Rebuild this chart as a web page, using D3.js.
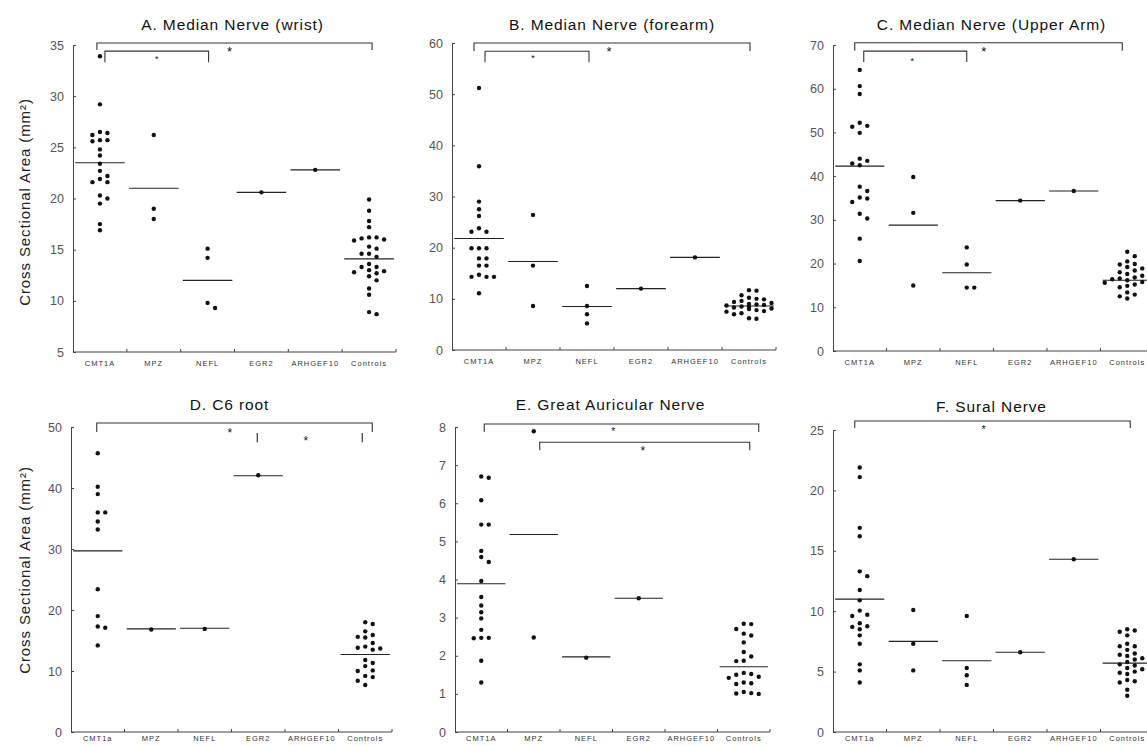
<!DOCTYPE html>
<html>
<head>
<meta charset="utf-8">
<script src="https://cdn.jsdelivr.net/npm/d3@7"></script>
<style>
  body { margin: 0; background: #fff; }
  svg { display: block; font-family: "Liberation Sans", Arial, sans-serif; }
</style>
</head>
<body>
<div id="chart"></div>
<script>
// categories
const categories = ["CMT1A", "MPZ", "NEFL", "EGR2", "ARHGEF10", "Controls"]
const categoriesLower = ["CMT1a", "MPZ", "NEFL", "EGR2", "ARHGEF10", "Controls"]

// A. median nerve (wrist), one list per category
const wristValues = [
  [33.9, 29.2, 26.5, 26.2, 26.4, 25.7, 25.7, 25.6, 24.8, 24.2, 23.4, 22.7, 22.2, 21.9, 21.6, 21.6, 20.3, 20.0, 19.5, 17.5, 16.9],
  [26.2, 19.0, 18.0],
  [15.1, 14.2, 9.8, 9.3],
  [20.6],
  [22.8],
  [19.9, 18.8, 17.8, 17.2, 16.2, 16.2, 16.1, 16.0, 15.9, 15.3, 15.1, 14.6, 14.6, 14.3, 13.6, 13.3, 13.3, 13.0, 12.9, 12.8, 12.7, 12.4, 12.0, 11.2, 10.6, 8.9, 8.7]
]
const wristMeans = [23.5, 21.0, 12.0, 20.6, 22.8, 14.1]

// B. median nerve (forearm)
const forearmValues = [
  [51.2, 35.9, 29.0, 27.5, 26.2, 23.8, 23.1, 23.1, 19.9, 19.9, 19.9, 17.9, 17.9, 16.5, 16.5, 14.7, 14.3, 14.3, 14.3, 11.1],
  [26.4, 16.5, 8.6],
  [12.5, 8.6, 7.0, 5.2],
  [12.0],
  [18.1],
  [11.7, 11.6, 10.7, 10.2, 10.0, 9.9, 9.6, 9.4, 9.2, 9.0, 8.9, 8.8, 8.7, 8.5, 8.4, 8.3, 8.1, 8.0, 7.8, 7.6, 7.5, 7.2, 7.0, 6.2, 6.1]
]
const forearmMeans = [21.8, 17.3, 8.5, 12.0, 18.1, 8.6]

// C. median nerve (upper arm)
const upperArmValues = [
  [64.3, 60.6, 58.8, 52.2, 51.5, 51.3, 49.9, 44.0, 43.5, 42.9, 42.5, 37.6, 36.6, 35.1, 34.9, 34.1, 31.4, 30.3, 25.7, 20.6],
  [39.8, 31.6, 15.0],
  [23.7, 19.8, 14.5, 14.5],
  [34.4],
  [36.6],
  [22.7, 21.7, 20.5, 19.9, 19.8, 19.2, 18.9, 18.4, 18.0, 17.6, 17.2, 16.8, 16.6, 16.4, 16.2, 16.0, 15.8, 15.6, 15.2, 14.9, 14.6, 13.4, 12.9, 12.5, 12.0]
]
const upperArmMeans = [42.3, 28.8, 17.9, 34.4, 36.6, 16.2]

// D. C6 root
const c6Values = [
  [45.7, 40.2, 39.0, 36.0, 36.0, 34.5, 33.2, 23.4, 19.0, 17.3, 17.1, 14.2],
  [16.8],
  [16.9],
  [42.1],
  [],
  [18.0, 17.7, 16.5, 15.9, 15.6, 15.5, 14.6, 14.0, 13.8, 13.7, 13.5, 11.8, 11.3, 10.8, 10.1, 10.0, 9.2, 9.0, 8.4, 7.7]
]
const c6Means = [29.7, 16.9, 17.0, 42.0, null, 12.7]

// E. great auricular nerve
const auricularValues = [
  [6.70, 6.67, 6.08, 5.44, 5.44, 4.75, 4.59, 4.46, 3.96, 3.54, 3.32, 3.14, 2.98, 2.68, 2.47, 2.46, 2.47, 1.87, 1.30],
  [7.89, 2.48],
  [1.95],
  [3.51],
  [],
  [2.84, 2.83, 2.70, 2.58, 2.53, 2.35, 2.10, 1.98, 1.87, 1.86, 1.55, 1.52, 1.50, 1.45, 1.42, 1.30, 1.28, 1.26, 1.05, 1.02, 1.01, 1.00]
]
const auricularMeans = [3.89, 5.18, 1.97, 3.51, null, 1.71]

// F. sural nerve
const suralValues = [
  [21.9, 21.1, 16.9, 16.2, 13.3, 12.9, 11.75, 10.9, 10.05, 9.7, 9.6, 9.0, 8.75, 8.7, 8.5, 8.0, 7.3, 5.6, 5.1, 4.1],
  [10.1, 7.3, 5.1],
  [9.6, 5.3, 4.7, 3.9],
  [6.6],
  [14.3],
  [8.5, 8.4, 8.3, 8.0, 7.3, 7.1, 7.1, 6.8, 6.5, 6.4, 6.3, 6.1, 6.0, 5.8, 5.6, 5.5, 5.3, 5.2, 5.0, 4.9, 4.8, 4.3, 4.2, 4.1, 3.5, 3.0]
]
const suralMeans = [11.0, 7.5, 5.9, 6.6, 14.3, 5.7]

const Y_LABEL = "Cross Sectional Area (mm\u00B2)"

const panels = [
  { title: "A. Median Nerve (wrist)", cats: categories, values: wristValues, means: wristMeans,
    domain: [5, 35], step: 5, x0: 73, x1: 396, top: 45, bottom: 352, titleY: 25, labelY: 202, pad: 9,
    brackets: [
      { from: "CMT1A", to: "Controls", dx1: -3, dx2: 3, level: 35.2, drop: 7 },
      { from: "CMT1A", to: "NEFL", dx1: 5, dx2: 1, level: 34.4, drop: 11 }],
    stars: [{ cat: "MPZ", dx: 3, level: 33.7, size: 9 }, { cat: "NEFL", dx: 22, level: 34.5, size: 13 }],
    bars: [] },
  { title: "B. Median Nerve (forearm)", cats: categories, values: forearmValues, means: forearmMeans,
    domain: [0, 60], step: 10, x0: 452, x1: 776, top: 43, bottom: 350, titleY: 25, pad: 9,
    brackets: [
      { from: "CMT1A", to: "Controls", dx1: -5, dx2: 1, level: 60, drop: 8 },
      { from: "CMT1A", to: "NEFL", dx1: 6, dx2: 2, level: 58.4, drop: 11 }],
    stars: [{ cat: "MPZ", dx: 0, level: 57.3, size: 9 }, { cat: "NEFL", dx: 22, level: 58.6, size: 13 }],
    bars: [] },
  { title: "C. Median Nerve (Upper Arm)", cats: categories, values: upperArmValues, means: upperArmMeans,
    domain: [0, 70], step: 10, x0: 833, x1: 1154, top: 45, bottom: 351, titleY: 25, pad: 9,
    brackets: [
      { from: "CMT1A", to: "Controls", dx1: -5, dx2: -5, level: 70.5, drop: 8 },
      { from: "CMT1A", to: "NEFL", dx1: 4, dx2: 0, level: 68.6, drop: 11 }],
    stars: [{ cat: "MPZ", dx: -1, level: 66.6, size: 9 }, { cat: "NEFL", dx: 17, level: 68.9, size: 13 }],
    bars: [] },
  { title: "D. C6 root", cats: categoriesLower, values: c6Values, means: c6Means,
    domain: [0, 50], step: 10, x0: 71, x1: 392, top: 427, bottom: 732, titleY: 405, labelY: 570, pad: 4,
    brackets: [{ from: "CMT1a", to: "Controls", dx1: -1, dx2: 7, level: 50.65, drop: 9 }],
    stars: [{ cat: "NEFL", dx: 25, level: 49.2, size: 12 }, { cat: "ARHGEF10", dx: -6, level: 47.9, size: 12 }],
    bars: [{ cat: "EGR2", dx: -1, from: 49.0, to: 47.5 }, { cat: "Controls", dx: -3, from: 49.0, to: 47.5 }] },
  { title: "E. Great Auricular Nerve", cats: categories, values: auricularValues, means: auricularMeans,
    domain: [0, 8], step: 1, x0: 455, x1: 770, top: 427, bottom: 732, titleY: 405, pad: 4,
    brackets: [
      { from: "CMT1A", to: "Controls", dx1: 3, dx2: 15, level: 8.08, drop: 8 },
      { from: "MPZ", to: "Controls", dx1: 6, dx2: 6, level: 7.6, drop: 8 }],
    stars: [{ cat: "NEFL", dx: 27, level: 7.92, size: 10 }, { cat: "EGR2", dx: 4, level: 7.42, size: 12 }],
    bars: [] },
  { title: "F. Sural Nerve", cats: categoriesLower, values: suralValues, means: suralMeans,
    domain: [0, 25], step: 5, x0: 833, x1: 1154, top: 430, bottom: 732, titleY: 407, pad: 4,
    brackets: [{ from: "CMT1a", to: "Controls", dx1: -5, dx2: 3, level: 25.75, drop: 7 }],
    stars: [{ cat: "NEFL", dx: 17, level: 25.2, size: 11 }],
    bars: [] }
]

const svg = d3.select("#chart").append("svg")
  .attr("width", 1147)
  .attr("height", 746)

// column based beeswarm, so dots with close values sit side by side
function swarm(vals, y, step, gap) {
  const placed = []
  const order = vals.map((v, i) => ({ v, i })).sort((a, b) => b.v - a.v)
  const out = new Array(vals.length)
  order.forEach(d => {
    const py = y(d.v)
    const cands = [0, 1, -1, 2, -2, 3, -3]
    let col = 0
    for (const k of cands) {
      if (!placed.some(p => p.k === k && Math.abs(p.py - py) < gap)) { col = k; break }
    }
    placed.push({ k: col, py })
    out[d.i] = { v: d.v, dx: col * step, py }
  })
  return out
}

panels.forEach(p => {
  const g = svg.append("g")

  const x = d3.scaleBand().domain(p.cats).range([p.x0, p.x1])
  const y = d3.scaleLinear().domain(p.domain).range([p.bottom, p.top])
  const bw = x.bandwidth()

  // title
  g.append("text")
    .attr("x", (p.x0 + p.x1) / 2 - 2)
    .attr("y", p.titleY)
    .attr("dy", "0.35em")
    .attr("text-anchor", "middle")
    .attr("font-size", "15.5px")
    .attr("letter-spacing", "0.9px")
    .attr("fill", "#111")
    .text(p.title)

  // y axis
  const ticks = d3.range(p.domain[0], p.domain[1] + 1e-9, p.step)
  const yAxis = g.append("g")
    .attr("transform", `translate(${p.x0},0)`)
    .call(d3.axisLeft(y).tickValues(ticks).tickSize(-3).tickSizeOuter(0).tickPadding(9))
  yAxis.select(".domain").attr("stroke", "#444")
  yAxis.selectAll(".tick line").attr("stroke", "#444")
  yAxis.selectAll(".tick text")
    .attr("font-family", "\"Liberation Sans\", Arial, sans-serif")
    .attr("font-size", "12.5px")
    .attr("fill", "#555")

  // x axis: base line, ticks between categories, labels at band centres
  g.append("line")
    .attr("x1", p.x0).attr("x2", p.x1)
    .attr("y1", p.bottom).attr("y2", p.bottom)
    .attr("stroke", "#444")
  g.selectAll(".sep")
    .data(p.cats.slice(1).concat([null]))
    .enter().append("line")
      .attr("x1", d => d === null ? p.x1 : x(d))
      .attr("x2", d => d === null ? p.x1 : x(d))
      .attr("y1", p.bottom)
      .attr("y2", p.bottom - 3)
      .attr("stroke", "#444")
  const xAxis = g.append("g")
    .attr("transform", `translate(0,${p.bottom})`)
    .call(d3.axisBottom(x).tickSize(0).tickPadding(p.pad))
  xAxis.select(".domain").remove()
  xAxis.selectAll(".tick text")
    .attr("font-family", "\"Liberation Sans\", Arial, sans-serif")
    .attr("font-size", "7.5px")
    .attr("letter-spacing", "1px")
    .attr("fill", "#333")

  // y axis title
  if (p.labelY) {
    g.append("text")
      .attr("transform", `translate(25,${p.labelY}) rotate(-90)`)
      .attr("text-anchor", "middle")
      .attr("dy", "0.35em")
      .attr("font-size", "15px")
      .attr("letter-spacing", "0.9px")
      .attr("fill", "#222")
      .text(Y_LABEL)
  }

  // mean lines
  const meanData = p.cats.map((c, i) => ({ c, m: p.means[i] })).filter(d => d.m !== null)
  g.selectAll(".mean")
    .data(meanData)
    .enter().append("line")
      .attr("x1", d => x(d.c) + bw * 0.04)
      .attr("x2", d => x(d.c) + bw * 0.96)
      .attr("y1", d => y(d.m))
      .attr("y2", d => y(d.m))
      .attr("stroke", "#222")
      .attr("stroke-width", 1.1)

  // dots
  p.cats.forEach((c, i) => {
    const pts = swarm(p.values[i], y, 7.5, 5.5)
    g.selectAll(null)
      .data(pts)
      .enter().append("circle")
        .attr("cx", d => x(c) + bw / 2 + d.dx)
        .attr("cy", d => d.py)
        .attr("r", 2.2)
        .attr("fill", "#111")
  })

  // significance brackets
  p.brackets.forEach(b => {
    const xa = x(b.from) + bw / 2 + b.dx1
    const xb = x(b.to) + bw / 2 + b.dx2
    const yl = y(b.level)
    g.append("path")
      .attr("d", `M${xa},${yl + b.drop}V${yl}H${xb}V${yl + b.drop}`)
      .attr("fill", "none")
      .attr("stroke", "#333")
      .attr("stroke-width", 1.1)
  })

  p.stars.forEach(s => {
    g.append("text")
      .attr("x", x(s.cat) + bw / 2 + s.dx)
      .attr("y", y(s.level) + s.size * 0.45)
      .attr("text-anchor", "middle")
      .attr("font-size", s.size + "px")
      .attr("fill", "#111")
      .text("*")
  })

  p.bars.forEach(b => {
    g.append("line")
      .attr("x1", x(b.cat) + bw / 2 + b.dx)
      .attr("x2", x(b.cat) + bw / 2 + b.dx)
      .attr("y1", y(b.from))
      .attr("y2", y(b.to))
      .attr("stroke", "#333")
      .attr("stroke-width", 1.2)
  })
})
</script>
</body>
</html>
